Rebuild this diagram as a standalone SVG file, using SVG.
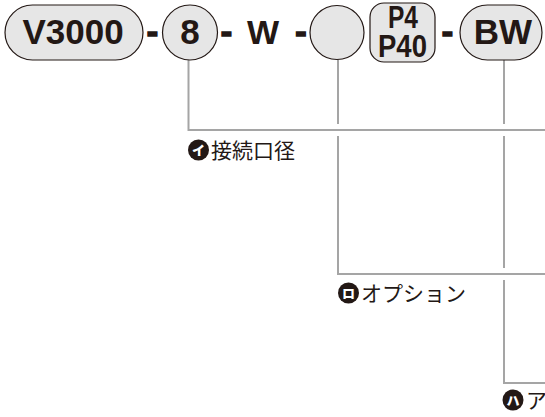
<svg xmlns="http://www.w3.org/2000/svg" width="545" height="417" viewBox="0 0 545 417">
<style>
.box{fill:#e6e6e6;stroke:#231815;stroke-width:1.2}
.t{font-family:"Liberation Sans",Arial,sans-serif;font-weight:bold;fill:#231815;text-anchor:middle}
.d{font-family:"Liberation Sans",Arial,sans-serif;font-weight:bold;fill:#231815;stroke:#231815;stroke-width:1.6;text-anchor:middle;font-size:34px}
.ln{fill:none;stroke:#a5a5a5;stroke-width:2}
.lb{font-family:"Noto Sans CJK JP","Noto Sans",sans-serif;font-size:21px;fill:#231815}
.ic{fill:#231815}
.it{fill:#fff;font-family:"Noto Sans CJK JP",sans-serif;font-weight:900;font-size:13px;text-anchor:middle}
</style>
<rect width="545" height="417" fill="#fff"/>
<g id="connectors">
<polyline class="ln" points="188.5,60 188.5,130 545,130"/>
<polyline class="ln" points="338,60 338,124"/>
<polyline class="ln" points="338,136 338,274 545,274"/>
<polyline class="ln" points="504,60 504,124"/>
<polyline class="ln" points="504,136 504,268"/>
<polyline class="ln" points="504,280 504,383 545,383"/>
</g>
<g id="node-v3000">
<rect class="box" x="5" y="5" width="138" height="55" rx="27.5"/>
<text class="t" x="73" y="44" font-size="35">V3000</text>
</g>
<g id="sep1"><text class="d" x="152.5" y="43">-</text></g>
<g id="node-8">
<circle class="box" cx="190" cy="32.5" r="27.5"/>
<text class="t" x="190" y="44" font-size="35">8</text>
</g>
<g id="sep2"><text class="d" x="226.5" y="43">-</text></g>
<g id="sep-w"><text class="t" x="263" y="44" font-size="34">W</text></g>
<g id="sep3"><text class="d" x="301" y="43">-</text></g>
<g id="node-option">
<circle class="box" cx="337" cy="32.5" r="27"/>
</g>
<g id="node-p4">
<rect class="box" x="370" y="3" width="65" height="59" rx="14"/>
<text class="t" x="403" y="28" font-size="31" textLength="30" lengthAdjust="spacingAndGlyphs">P4</text>
<text class="t" x="402.5" y="57" font-size="31" textLength="49" lengthAdjust="spacingAndGlyphs">P40</text>
</g>
<g id="sep4"><text class="d" x="447.5" y="43">-</text></g>
<g id="node-bw">
<rect class="box" x="460" y="5" width="82" height="55" rx="27.5"/>
<text class="t" x="503" y="44" font-size="35">BW</text>
</g>
<g id="label-i">
<circle class="ic" cx="198.5" cy="150" r="10.5"/>
<text class="it" x="198.5" y="155">イ</text>
<text class="lb" x="211" y="158">接続口径</text>
</g>
<g id="label-ro">
<circle class="ic" cx="348.5" cy="293" r="10.5"/>
<text class="it" x="348.5" y="298">ロ</text>
<text class="lb" x="361" y="301">オプション</text>
</g>
<g id="label-ha">
<circle class="ic" cx="513" cy="400" r="10.5"/>
<text class="it" x="513" y="405">ハ</text>
<text class="lb" x="526" y="408">ア</text>
</g>
</svg>
